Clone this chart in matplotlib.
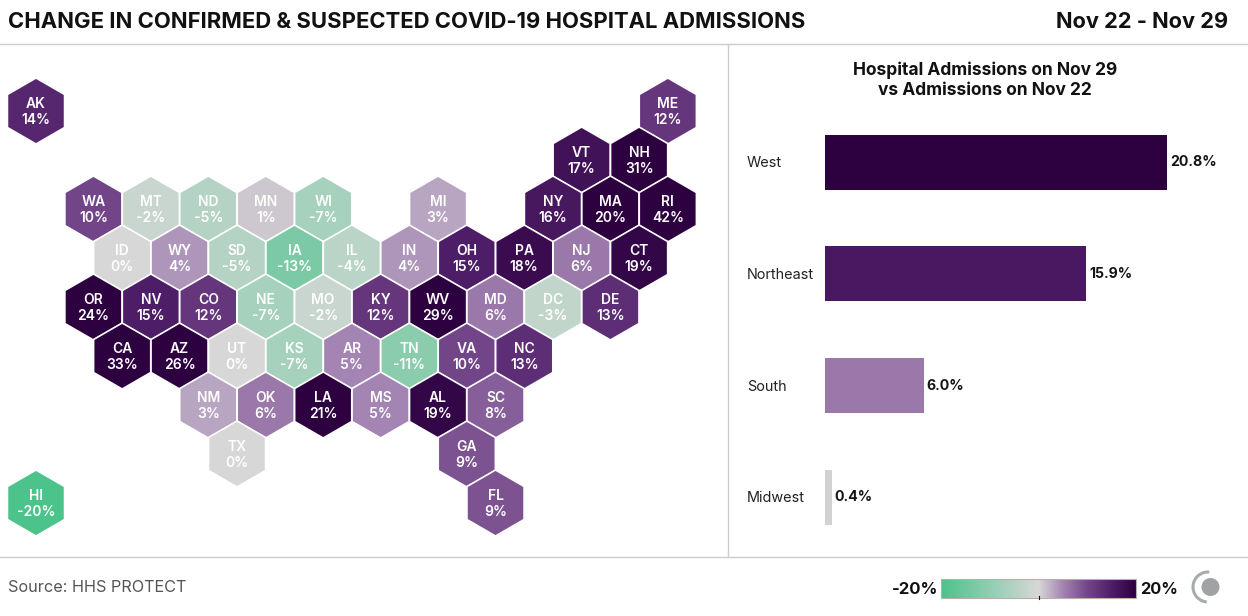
import matplotlib
matplotlib.use("Agg")
import matplotlib.pyplot as plt
import numpy as np
from matplotlib.colors import LinearSegmentedColormap, Normalize
from matplotlib.patches import RegularPolygon, Circle, Arc, Rectangle

plt.rcParams['font.family'] = ['Inter', 'DejaVu Sans']

# tile grid, one list per row, state and half-column
grid_rows = [
    [("AK", 0), ("ME", 22)],
    [("VT", 19), ("NH", 21)],
    [("WA", 2), ("MT", 4), ("ND", 6), ("MN", 8), ("WI", 10), ("MI", 14), ("NY", 18), ("MA", 20), ("RI", 22)],
    [("ID", 3), ("WY", 5), ("SD", 7), ("IA", 9), ("IL", 11), ("IN", 13), ("OH", 15), ("PA", 17), ("NJ", 19), ("CT", 21)],
    [("OR", 2), ("NV", 4), ("CO", 6), ("NE", 8), ("MO", 10), ("KY", 12), ("WV", 14), ("MD", 16), ("DC", 18), ("DE", 20)],
    [("CA", 3), ("AZ", 5), ("UT", 7), ("KS", 9), ("AR", 11), ("TN", 13), ("VA", 15), ("NC", 17)],
    [("NM", 6), ("OK", 8), ("LA", 10), ("MS", 12), ("AL", 14), ("SC", 16)],
    [("TX", 7), ("GA", 15)],
    [("HI", 0), ("FL", 16)],
]

state_change = {
    "AK": 14, "ME": 12, "VT": 17, "NH": 31, "WA": 10, "MT": -2, "ND": -5, "MN": 1, "WI": -7,
    "MI": 3, "NY": 16, "MA": 20, "RI": 42, "ID": 0, "WY": 4, "SD": -5, "IA": -13, "IL": -4,
    "IN": 4, "OH": 15, "PA": 18, "NJ": 6, "CT": 19, "OR": 24, "NV": 15, "CO": 12, "NE": -7,
    "MO": -2, "KY": 12, "WV": 29, "MD": 6, "DC": -3, "DE": 13, "CA": 33, "AZ": 26, "UT": 0,
    "KS": -7, "AR": 5, "TN": -11, "VA": 10, "NC": 13, "NM": 3, "OK": 6, "LA": 21, "MS": 5,
    "AL": 19, "SC": 8, "TX": 0, "GA": 9, "HI": -20, "FL": 9,
}

regions = ["West", "Northeast", "South", "Midwest"]
region_change = [20.8, 15.9, 6.0, 0.4]

W, H = 1248, 616

cmap = LinearSegmentedColormap.from_list("change", [
    (0.0, "#4cc38a"),
    (0.5, "#d7d8d7"),
    (0.625, "#a485b3"),
    (0.75, "#734689"),
    (0.875, "#4f1e68"),
    (1.0, "#2d0040"),
])
norm = Normalize(-20, 20)

fig = plt.figure(figsize=(W / 100, H / 100), dpi=100)
bg = fig.add_axes([0, 0, 1, 1])
bg.set_xlim(0, W)
bg.set_ylim(H, 0)
bg.axis("off")

# header and frame lines
bg.text(8, 22, "CHANGE IN CONFIRMED & SUSPECTED COVID-19 HOSPITAL ADMISSIONS",
        fontsize=15.85, fontweight="bold", color="#111111", va="center", ha="left")
bg.text(1228, 22, "Nov 22 - Nov 29", fontsize=15.7, fontweight="bold", color="#111111", va="center", ha="right")
bg.plot([0, W], [44, 44], color="#cccccc", lw=1)
bg.plot([0, W], [557, 557], color="#cccccc", lw=1)
bg.plot([728, 728], [44, 557], color="#cccccc", lw=1)

# hex map
for r, row in enumerate(grid_rows):
    cy = 111 + 49 * r
    for st, k in row:
        cx = 36 + 28.72 * k
        val = state_change[st]
        bg.add_patch(RegularPolygon((cx, cy), 6, radius=33, orientation=0,
                                    facecolor=cmap(norm(val)), edgecolor="white", lw=1.2))
        bg.text(cx, cy - 7, st, color="white", fontsize=10, fontweight="semibold", ha="center", va="center")
        bg.text(cx, cy + 9, f"{val}%", color="white", fontsize=10, fontweight="semibold", ha="center", va="center")

# bar panel
bg.text(985, 80, "Hospital Admissions on Nov 29\nvs Admissions on Nov 22", fontsize=12.5, fontweight="bold",
        color="#111111", ha="center", va="center", linespacing=1.2)
ax = fig.add_axes([825 / W, 1 - 552.8 / H, 342 / W, (552.8 - 106.7) / H])
ypos = np.arange(len(regions))
ax.barh(ypos, region_change, height=0.493, color=[cmap(norm(v)) for v in region_change])
ax.set_xlim(0, 20.8)
ax.set_ylim(len(regions) - 0.5, -0.5)
ax.axis("off")
for y, name, v in zip(ypos, regions, region_change):
    ax.annotate(name, (0, y), xytext=(-78, -1), textcoords="offset pixels", color="#222222",
                fontsize=10.4, va="center", ha="left")
    ax.annotate(f"{v:.1f}%", (v, y), xytext=(3, 0), textcoords="offset pixels", color="#151515",
                fontsize=10.2, fontweight="bold", va="center", ha="left")

# footer
bg.text(8, 587.5, "Source: HHS PROTECT", fontsize=11.7, color="#555555", va="center", ha="left")
grad = np.linspace(-20, 20, 256).reshape(1, -1)
bg.imshow(grad, cmap=cmap, norm=norm, extent=[941, 1136, 598, 579], aspect="auto", zorder=2)
bg.add_patch(Rectangle((941, 579), 195, 19, facecolor="none", edgecolor="#b8b0a8", lw=0.8, zorder=3))
bg.set_xlim(0, W)
bg.set_ylim(H, 0)
bg.plot([1038.5, 1038.5], [596, 599], color="#111111", lw=0.8, zorder=4)
bg.text(938, 589, "-20%", fontsize=12, fontweight="bold", color="#111111", va="center", ha="right")
bg.text(1140, 589, "20%", fontsize=11.8, fontweight="bold", color="#111111", va="center", ha="left")
bg.add_patch(Circle((1210.5, 587), 9, color="#a0a3a3", lw=0))
bg.add_patch(Arc((1208, 587), 30, 30, theta1=95, theta2=275, color="#a8abab", lw=2.2))

fig.savefig("out.png", dpi=100)
